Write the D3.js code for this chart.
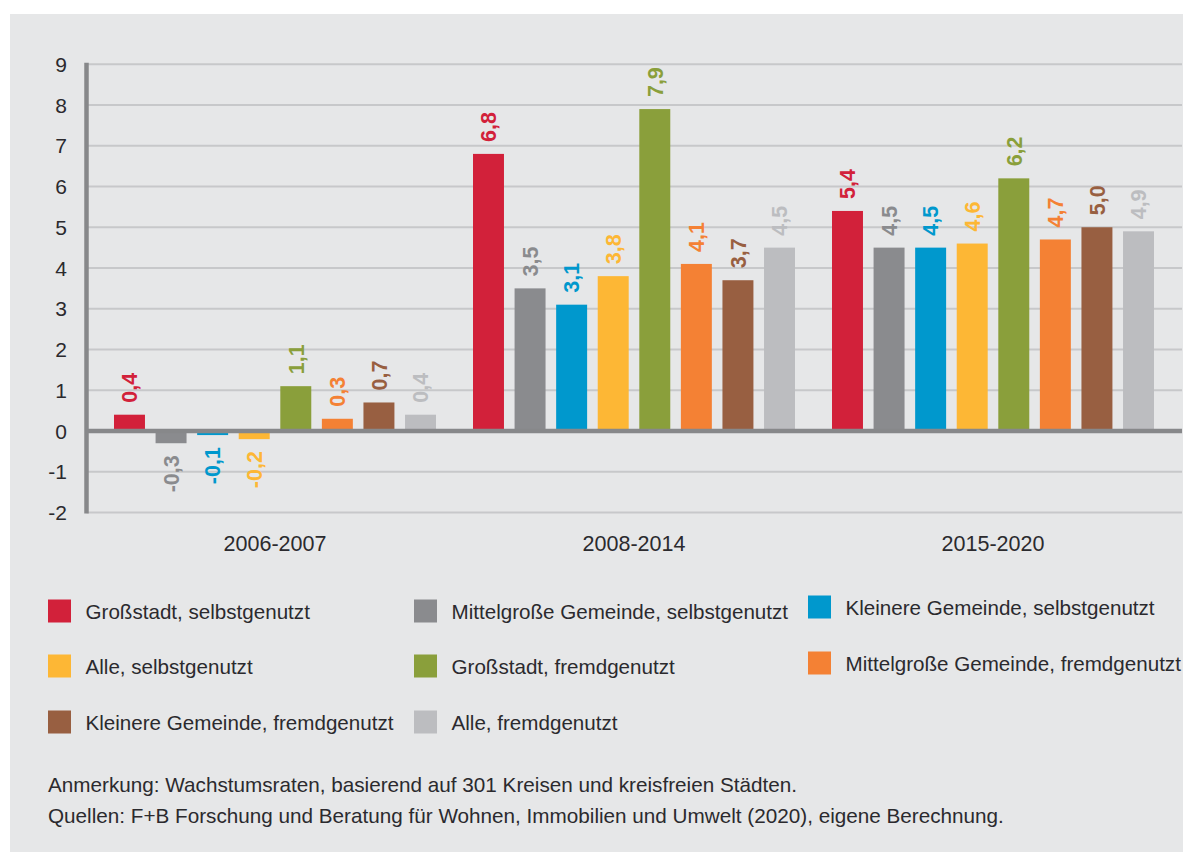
<!DOCTYPE html>
<html>
<head>
<meta charset="utf-8">
<script src="https://cdn.jsdelivr.net/npm/d3@7"></script>
<style>
  html, body { margin: 0; padding: 0; background: #ffffff; }
  svg { display: block; }
  text { font-family: 'Liberation Sans', Arial, sans-serif; }
</style>
</head>
<body>
<svg id="chart" width="1185" height="852"></svg>
<script>
// ---------- data ----------
const categories = ["2006-2007", "2008-2014", "2015-2020"];
const seriesNames = [
  "Großstadt, selbstgenutzt",
  "Mittelgroße Gemeinde, selbstgenutzt",
  "Kleinere Gemeinde, selbstgenutzt",
  "Alle, selbstgenutzt",
  "Großstadt, fremdgenutzt",
  "Mittelgroße Gemeinde, fremdgenutzt",
  "Kleinere Gemeinde, fremdgenutzt",
  "Alle, fremdgenutzt"
];
const seriesColors = ["#d2213a", "#8a8b8e", "#0098cd", "#fdb735", "#8a9f3b", "#f48134", "#985f41", "#bcbdc0"];
const values_2006_2007 = [0.4, -0.3, -0.1, -0.2, 1.1, 0.3, 0.7, 0.4];
const values_2008_2014 = [6.8, 3.5, 3.1, 3.8, 7.9, 4.1, 3.7, 4.5];
const values_2015_2020 = [5.4, 4.5, 4.5, 4.6, 6.2, 4.7, 5.0, 4.9];
const yTicks = [-2, -1, 0, 1, 2, 3, 4, 5, 6, 7, 8, 9];
const noteLines = [
  "Anmerkung: Wachstumsraten, basierend auf 301 Kreisen und kreisfreien Städten.",
  "Quellen: F+B Forschung und Beratung für Wohnen, Immobilien und Umwelt (2020), eigene Berechnung."
];

const valuesByCategory = [values_2006_2007, values_2008_2014, values_2015_2020];
const rows = [];
categories.forEach((c, ci) => {
  seriesNames.forEach((s, si) => {
    rows.push({ category: c, series: s, value: valuesByCategory[ci][si], color: seriesColors[si] });
  });
});

// ---------- layout ----------
const svg = d3.select("#chart");
svg.append("rect").attr("x", 10).attr("y", 14).attr("width", 1173).attr("height", 838).attr("fill", "#e6e7e8");

const y = d3.scaleLinear().domain([-2, 9]).range([512.5, 64.25]);
const x0 = d3.scaleBand().domain(categories).range([95.5, 1172.5]).padding(0);
const x1 = d3.scaleBand().domain(seriesNames).range([18.5, 340.5]).paddingInner(0.255).paddingOuter(0);
const color = d3.scaleOrdinal().domain(seriesNames).range(seriesColors);

const axisX = 86.5, gridRight = 1182;

// gridlines
svg.append("g").selectAll("line").data(yTicks.filter(d => d !== 0)).join("line")
  .attr("x1", axisX).attr("x2", gridRight)
  .attr("y1", d => y(d)).attr("y2", d => y(d))
  .attr("stroke", "#c7c8ca").attr("stroke-width", 2);

// bars
svg.append("g").selectAll("rect").data(rows).join("rect")
  .attr("x", d => x0(d.category) + x1(d.series))
  .attr("width", x1.bandwidth())
  .attr("y", d => y(Math.max(0, d.value)))
  .attr("height", d => Math.abs(y(d.value) - y(0)))
  .attr("fill", d => color(d.series));

// zero line
svg.append("line").attr("x1", axisX).attr("x2", gridRight).attr("y1", y(0)).attr("y2", y(0))
  .attr("stroke", "#87888a").attr("stroke-width", 4.5);

// y axis line
svg.append("line").attr("x1", axisX).attr("x2", axisX).attr("y1", y(9) - 1.5).attr("y2", y(-2) + 1)
  .attr("stroke", "#87888a").attr("stroke-width", 4.5);

// y tick labels
svg.append("g").selectAll("text").data(yTicks).join("text")
  .attr("x", 67).attr("y", d => y(d)).attr("dy", "0.36em")
  .attr("text-anchor", "end").attr("font-size", 21).attr("fill", "#2b2a2e")
  .text(d => String(d).replace("\u2212", "-"));

// category labels
svg.append("g").selectAll("text").data(categories).join("text")
  .attr("x", d => x0(d) + x0.bandwidth() / 2).attr("y", 551)
  .attr("text-anchor", "middle").attr("font-size", 21.5).attr("fill", "#2b2a2e")
  .text(d => d);

// value labels
const fmt = v => d3.format(".1f")(v).replace("\u2212", "-").replace(".", ",");
svg.append("g").selectAll("text").data(rows).join("text")
  .attr("transform", d => {
    const cx = x0(d.category) + x1(d.series) + x1.bandwidth() / 2;
    const yy = d.value >= 0 ? y(d.value) - 12 : y(d.value) + 12;
    return `translate(${cx},${yy}) rotate(-90)`;
  })
  .attr("dy", "0.36em")
  .attr("text-anchor", d => d.value >= 0 ? "start" : "end")
  .attr("font-size", 21.5).attr("font-weight", "bold")
  .attr("fill", d => color(d.series))
  .text(d => fmt(d.value));

// legend
const legendCols = [48, 414, 808];
const legendRowY = [[611, 666, 722], [611, 666, 722], [607, 663, 719]];
const legend = svg.append("g").selectAll("g").data(seriesNames).join("g")
  .attr("transform", (d, i) => {
    const col = i % 3, row = Math.floor(i / 3);
    return `translate(${legendCols[col]},${legendRowY[col][row]})`;
  });
legend.append("rect").attr("x", 0).attr("y", -11.5).attr("width", 23).attr("height", 23)
  .attr("fill", d => color(d));
legend.append("text").attr("x", 37.5).attr("y", 7.5)
  .attr("font-size", 20.6).attr("fill", "#2b2a2e").text(d => d);

// notes
svg.append("g").selectAll("text").data(noteLines).join("text")
  .attr("x", 48).attr("y", (d, i) => 792 + i * 31)
  .attr("font-size", 20.7).attr("fill", "#2b2a2e").text(d => d);
</script>
</body>
</html>
